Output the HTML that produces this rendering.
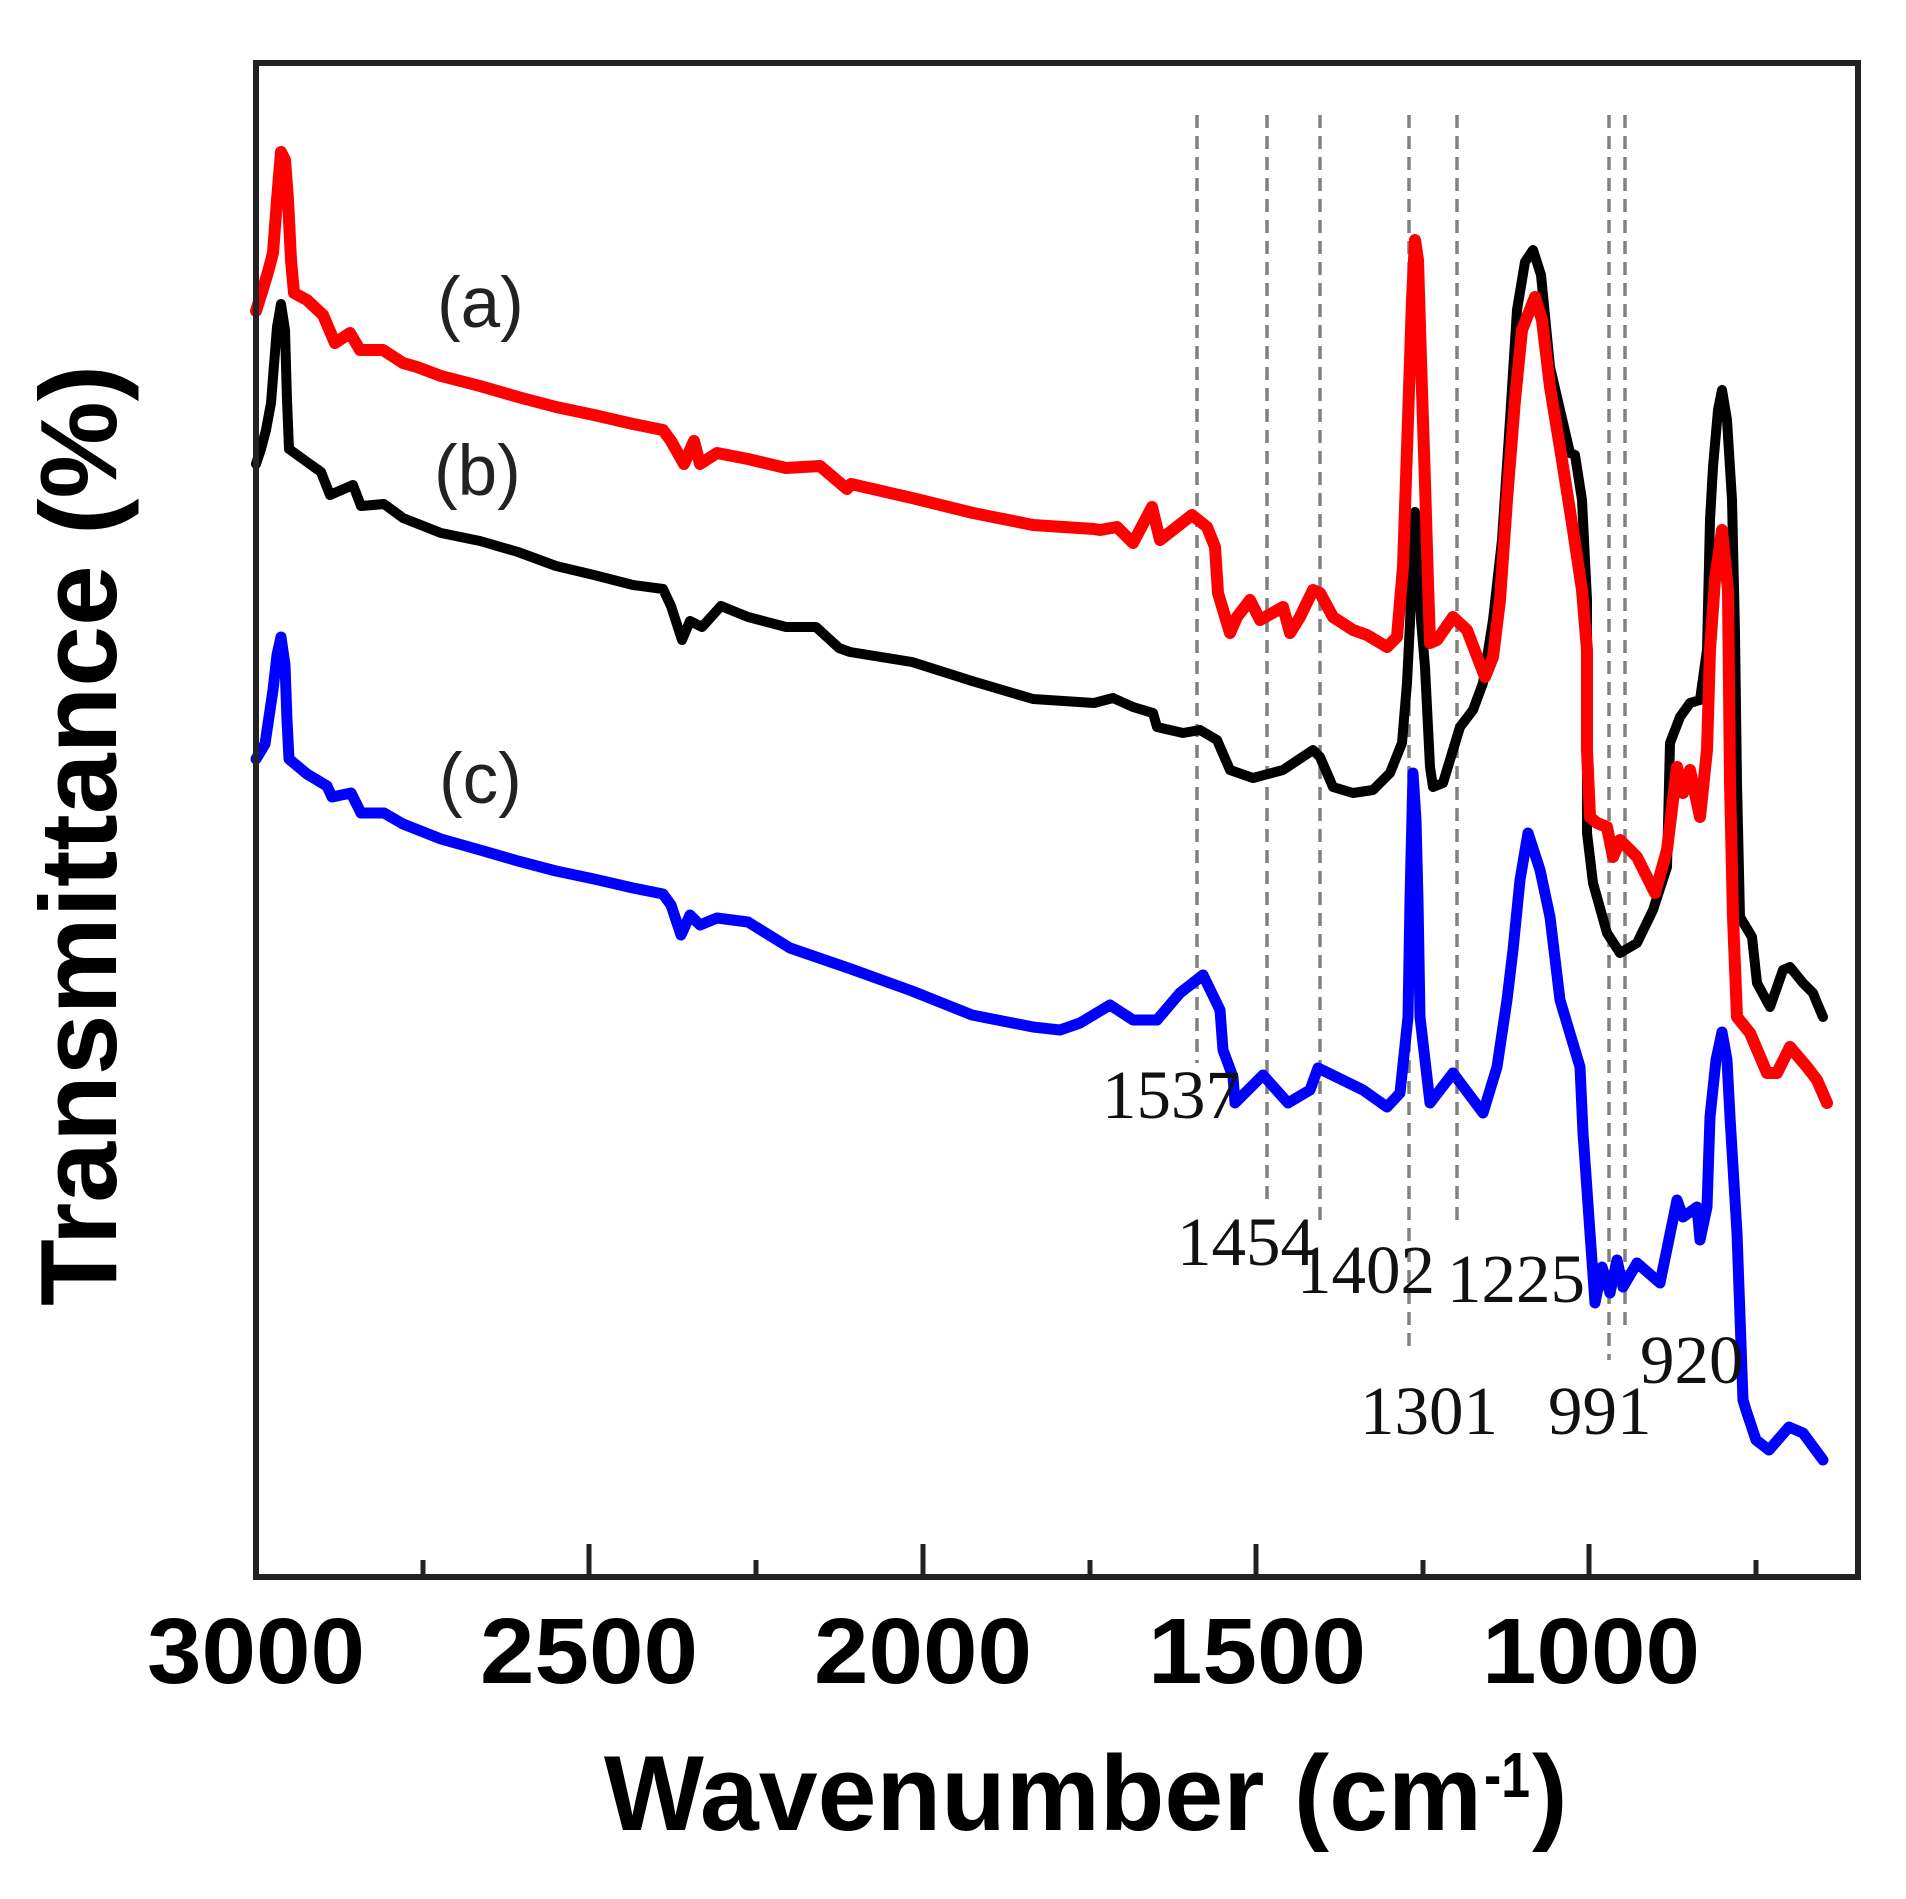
<!DOCTYPE html>
<html>
<head>
<meta charset="utf-8">
<style>
html,body{margin:0;padding:0;background:#fff;}
svg{display:block;}
</style>
</head>
<body>
<svg width="1906" height="1899" viewBox="0 0 1906 1899" xmlns="http://www.w3.org/2000/svg">
<rect x="0" y="0" width="1906" height="1899" fill="#fff"/>

<!-- dashed reference lines -->
<g stroke="#808080" stroke-width="3.5" stroke-dasharray="13,8" fill="none">
<line x1="1197" y1="115" x2="1197" y2="1063"/>
<line x1="1267" y1="115" x2="1267" y2="1207"/>
<line x1="1320" y1="115" x2="1320" y2="1225"/>
<line x1="1409" y1="115" x2="1409" y2="1347"/>
<line x1="1457" y1="115" x2="1457" y2="1225"/>
<line x1="1609" y1="115" x2="1609" y2="1360"/>
<line x1="1625" y1="115" x2="1625" y2="1333"/>
</g>

<!-- curves -->
<g fill="none" stroke-linejoin="round" stroke-linecap="round">
<polyline stroke="#0000ff" stroke-width="11" points="256,759 265,744 273,690 277,655 281,637 285,665 287,720 289,759 307,774 327,786 332,797 351,793 361,813 384,813 403,824 441,839 480,850 518,861 556,871 594,879 633,888 663,894 671,905 681,935 690,915 700,925 717,918 748,922 790,948 851,969 912,991 972,1015 1033,1027 1060,1030 1080,1023 1110,1005 1133,1020 1157,1020 1180,993 1203,975 1220,1010 1223,1050 1233,1077 1235,1103 1263,1075 1288,1103 1310,1090 1318,1068 1363,1090 1387,1107 1400,1093 1408,1017 1410,900 1413,773 1416,820 1418,900 1420,1017 1430,1103 1453,1073 1483,1113 1497,1067 1507,1000 1513,950 1520,880 1528,833 1540,870 1550,917 1560,1000 1580,1067 1583,1133 1590,1233 1595,1303 1602,1267 1610,1293 1617,1260 1623,1287 1637,1263 1660,1283 1677,1200 1683,1217 1697,1207 1700,1240 1707,1207 1710,1117 1716,1060 1722,1032 1727,1060 1730,1117 1737,1233 1743,1400 1746,1410 1756,1440 1769,1450 1789,1427 1803,1433 1823,1460"/>
<polyline stroke="#000000" stroke-width="10" points="256,464 261,449 266,430 271,403 277,327 281,304 285,330 287,400 289,449 307,462 321,472 330,495 353,485 361,506 384,504 403,518 441,533 480,541 518,552 556,566 594,575 633,585 663,589 671,606 682,640 690,621 702,627 721,606 748,617 786,627 816,627 839,648 850,652 912,662 972,681 1033,699 1094,703 1113,698 1133,707 1153,713 1157,727 1183,733 1200,730 1217,740 1230,770 1253,778 1283,770 1313,750 1320,757 1333,787 1353,793 1373,790 1390,773 1402,743 1407,683 1410,623 1413,540 1415,512 1418,560 1421,620 1425,667 1430,767 1433,787 1443,783 1453,750 1460,727 1473,710 1483,683 1493,620 1502,540 1510,420 1517,310 1525,262 1533,250 1541,275 1550,367 1560,410 1570,453 1575,455 1582,500 1587,600 1587,833 1593,883 1607,933 1620,953 1637,943 1653,910 1667,867 1670,743 1680,717 1690,703 1700,700 1707,650 1710,520 1713,467 1718,410 1722,390 1727,420 1732,500 1735,633 1737,783 1740,917 1752,937 1757,983 1770,1007 1783,970 1790,967 1803,983 1813,993 1817,1003 1823,1017"/>
<polyline stroke="#ff0000" stroke-width="12" points="256,311 262,292 268,272 273,253 277,200 281,152 285,160 288,200 291,260 294,293 307,300 323,315 335,343 350,333 360,350 383,350 403,363 417,367 441,376 480,386 518,397 556,407 594,415 633,424 663,430 671,441 684,464 694,441 700,464 717,453 748,459 786,468 820,466 847,489 851,484 912,498 973,513 1033,525 1094,529 1100,530 1117,527 1133,543 1152,507 1160,540 1192,515 1207,527 1215,547 1218,593 1230,633 1237,617 1250,600 1260,620 1283,607 1290,633 1300,617 1313,590 1320,593 1333,617 1353,630 1367,635 1387,647 1397,637 1403,567 1408,420 1412,300 1415,240 1418,260 1421,360 1425,483 1428,583 1430,643 1437,640 1453,617 1467,630 1485,677 1493,657 1500,600 1507,500 1515,400 1522,330 1535,297 1542,320 1550,387 1562,460 1573,530 1582,590 1587,650 1587,750 1590,817 1597,823 1607,827 1613,857 1620,840 1637,857 1655,893 1667,850 1677,767 1683,793 1690,770 1700,817 1707,750 1710,650 1715,580 1722,530 1728,590 1730,783 1733,917 1737,1017 1750,1033 1767,1073 1777,1073 1790,1047 1807,1067 1817,1080 1827,1103"/>
</g>

<!-- axes frame -->
<rect x="256" y="63" width="1602" height="1514" fill="none" stroke="#222" stroke-width="6"/>
<g stroke="#222" stroke-width="5">
<line x1="589" y1="1577" x2="589" y2="1544"/>
<line x1="923" y1="1577" x2="923" y2="1544"/>
<line x1="1256" y1="1577" x2="1256" y2="1544"/>
<line x1="1589" y1="1577" x2="1589" y2="1544"/>
<line x1="423" y1="1577" x2="423" y2="1560"/>
<line x1="756" y1="1577" x2="756" y2="1560"/>
<line x1="1090" y1="1577" x2="1090" y2="1560"/>
<line x1="1423" y1="1577" x2="1423" y2="1560"/>
<line x1="1756" y1="1577" x2="1756" y2="1560"/>
</g>

<!-- tick labels -->
<g font-family="'Liberation Sans', Arial, sans-serif" font-weight="bold" font-size="93" fill="#000" text-anchor="middle">
<text x="256" y="1683" textLength="218" lengthAdjust="spacingAndGlyphs">3000</text>
<text x="589" y="1683" textLength="218" lengthAdjust="spacingAndGlyphs">2500</text>
<text x="923" y="1683" textLength="218" lengthAdjust="spacingAndGlyphs">2000</text>
<text x="1257" y="1683" textLength="218" lengthAdjust="spacingAndGlyphs">1500</text>
<text x="1591" y="1683" textLength="218" lengthAdjust="spacingAndGlyphs">1000</text>
</g>

<!-- axis titles -->
<text x="604" y="1830" font-family="'Liberation Sans', Arial, sans-serif" font-weight="bold" font-size="107" fill="#000" textLength="878" lengthAdjust="spacingAndGlyphs">Wavenumber (cm</text>
<text x="1484" y="1797" font-family="'Liberation Sans', Arial, sans-serif" font-weight="bold" font-size="64" fill="#000" textLength="46" lengthAdjust="spacingAndGlyphs">-1</text>
<text x="1532" y="1830" font-family="'Liberation Sans', Arial, sans-serif" font-weight="bold" font-size="107" fill="#000">)</text>

<text transform="translate(116,1306) rotate(-90)" font-family="'Liberation Sans', Arial, sans-serif" font-weight="bold" font-size="109" fill="#000" textLength="941" lengthAdjust="spacingAndGlyphs">Transmittance (%)</text>

<!-- series labels -->
<g font-family="'Liberation Sans', Arial, sans-serif" font-size="71" fill="#222">
<text x="437" y="327">(a)</text>
<text x="434" y="495">(b)</text>
<text x="439" y="803">(c)</text>
</g>

<!-- peak labels -->
<g font-family="'Liberation Serif', 'Times New Roman', serif" font-size="69" fill="#111">
<text x="1102" y="1118">1537</text>
<text x="1177" y="1265">1454</text>
<text x="1297" y="1293">1402</text>
<text x="1447" y="1302">1225</text>
<text x="1360" y="1434">1301</text>
<text x="1548" y="1434">991</text>
<text x="1640" y="1383">920</text>
</g>
</svg>
</body>
</html>
